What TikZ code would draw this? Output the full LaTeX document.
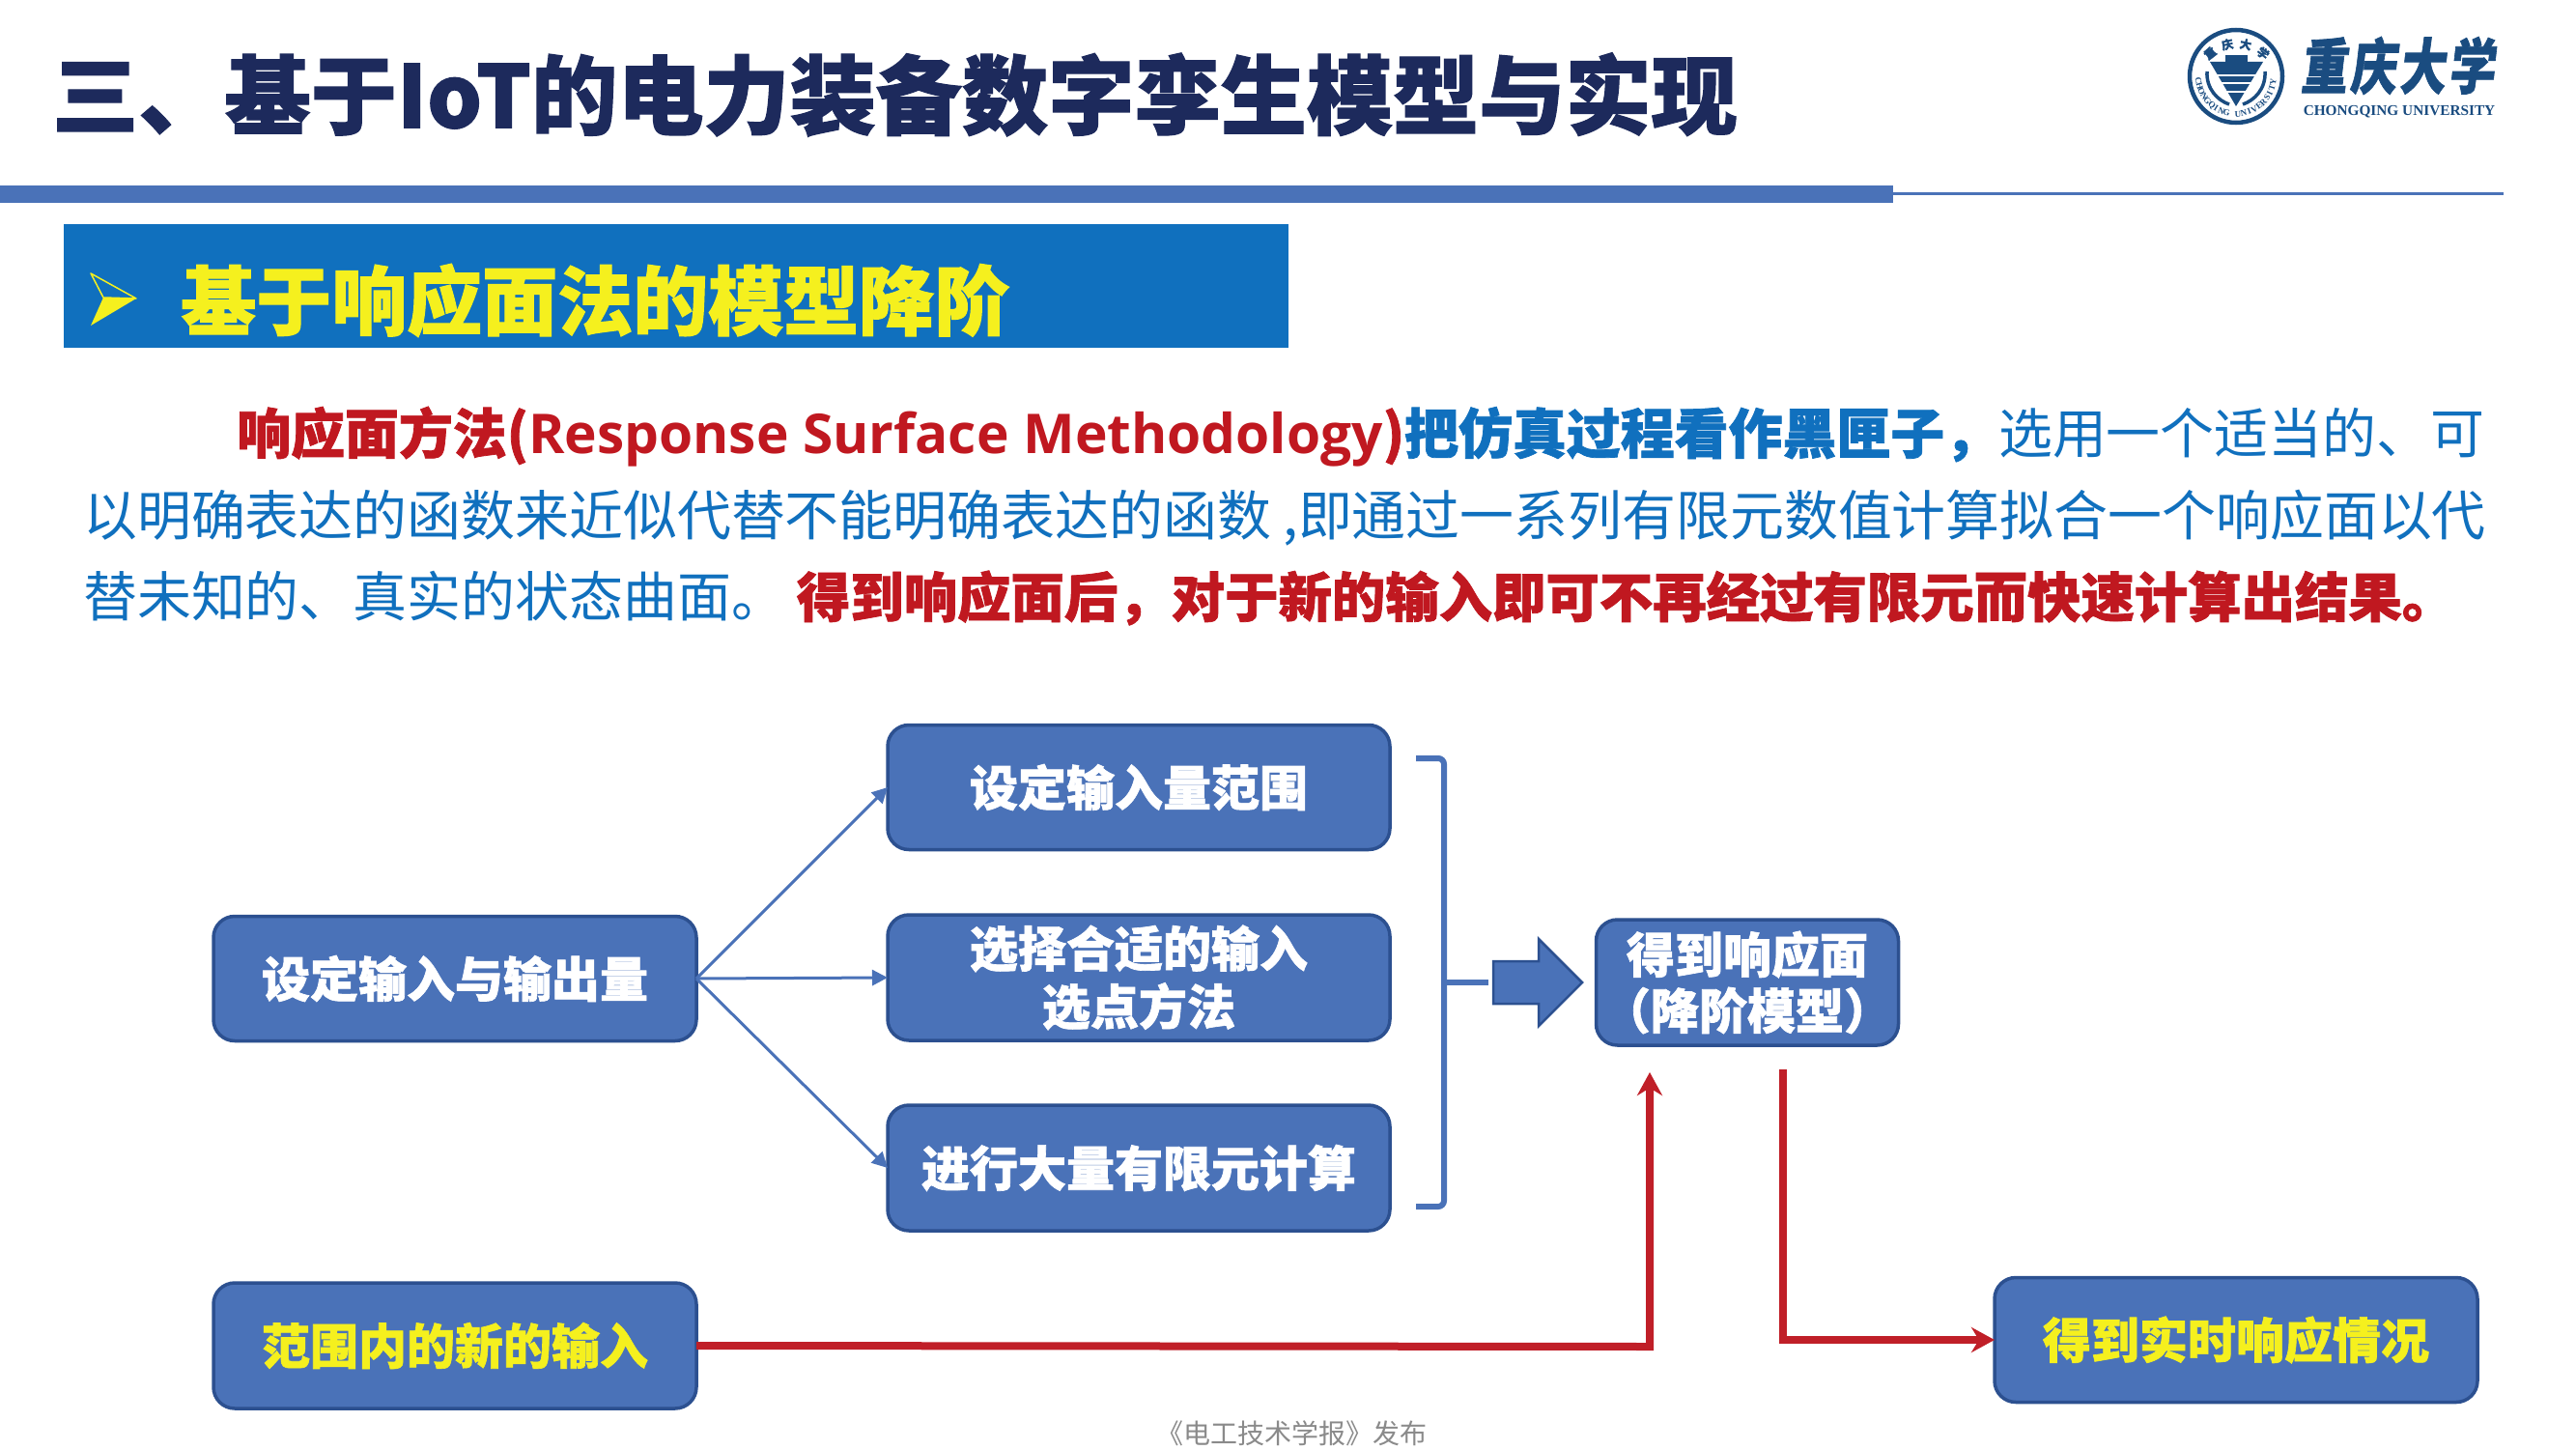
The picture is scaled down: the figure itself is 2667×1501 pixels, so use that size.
\documentclass[tikz,border=0pt]{standalone}
\usepackage{fontspec}
\setmainfont{Carlito}
\newfontfamily\cjk{Noto Sans CJK SC}[BoldFeatures={FakeBold=1.3}]
\newfontfamily\latinb{Open Sans}
\newfontfamily\seriflogo{Liberation Serif}
\usetikzlibrary{arrows.meta}
\definecolor{boxfill}{HTML}{4A72B8}
\definecolor{boxline}{HTML}{2C5090}
\definecolor{navy}{HTML}{1D2A5C}
\definecolor{bannerblue}{HTML}{1070BE}
\definecolor{yel}{HTML}{F5F01E}
\definecolor{parablue}{HTML}{1070BE}
\definecolor{parared}{HTML}{C01820}
\definecolor{arrowred}{HTML}{C01F28}
\definecolor{logoblue}{HTML}{1A4C80}
\definecolor{footgray}{HTML}{8A8A8A}
\tikzset{
 x=1pt,y=-1pt,
 flowbox/.style={draw=boxline,line width=3.5pt,fill=boxfill,rounded corners=22pt,inner sep=0pt,outer sep=0pt,align=center,text=white,font=\fontsize{50}{60}\selectfont\cjk\bfseries},
 yelbox/.style={flowbox,text=yel},
 para/.style={anchor=west,inner sep=0pt,font=\fontsize{55.9}{60}\selectfont\cjk},
 bluearrow/.style={draw=boxfill,line width=3pt,-{Triangle[length=16pt,width=16pt]}},
 redarrow/.style={draw=arrowred,line width=8pt,-{Stealth[length=24pt,width=26pt]}},
 sealchar/.style={inner sep=0pt,text=logoblue,font=\fontsize{9}{9}\selectfont\seriflogo\bfseries},
 sealcn/.style={inner sep=0pt,text=logoblue,font=\fontsize{12}{12}\selectfont\cjk\bfseries},
}
\begin{document}
\begin{tikzpicture}
\useasboundingbox (0,0) rectangle (2667,1501);
\fill[white] (0,0) rectangle (2667,1501);
% title
\node[anchor=west,inner sep=0pt,text=navy,font=\fontsize{89.2}{90}\selectfont\cjk\bfseries] (title) at (54,98) {三、基于IoT的电力装备数字孪生模型与实现};
\fill[boxfill] (0,192) rectangle (1960,210);
\draw[boxfill,line width=3pt] (1960,200) -- (2592,200);
% logo
\draw[logoblue,line width=4.5pt] (2315,79) circle (48);
\fill[logoblue] (2288,64) -- (2343,64) -- (2315,110) -- cycle;
\fill[logoblue] (2304,57) rectangle (2327,64);
\draw[white,line width=1.5pt] (2295,78) -- (2335,78) (2300,86) -- (2330,86) (2305,95) -- (2325,95);
\draw[logoblue,line width=3.5pt] (2285,74) .. controls (2284,92) and (2296,104) .. (2308,108);
\draw[logoblue,line width=3.5pt] (2345,74) .. controls (2346,92) and (2334,104) .. (2322,108);
\foreach \ch [count=\i from 0] in {C,H,O,N,G,Q,I,N,G,{ },U,N,I,V,E,R,S,I,T,Y} {
  \pgfmathsetmacro{\ang}{186+\i*8.7}
  \node[sealchar,rotate=\ang+90] (seal\i) at ({2315+39*cos(\ang)},{79-39*sin(\ang)}) {\ch};
}
\node[sealcn,rotate=38] (sealA) at (2288,55) {重};
\node[sealcn,rotate=12] (sealB) at (2306,46) {庆};
\node[sealcn,rotate=-12] (sealC) at (2325,46) {大};
\node[sealcn,rotate=-38] (sealD) at (2343,55) {学};
\node[anchor=center,text=logoblue,inner sep=0pt,yscale=1.3,xslant=0.15,font=\fontsize{48}{50}\selectfont\cjk\bfseries] (logocn) at (2485,68) {重\hspace{3pt}庆\hspace{3pt}大\hspace{3pt}学};
\node[anchor=center,text=logoblue,inner sep=0pt,font=\fontsize{15.3}{16}\selectfont\seriflogo\bfseries] (logoen) at (2484,116) {CHONGQING UNIVERSITY};
% banner
\fill[bannerblue] (66,232) rectangle (1334,360);
\fill[yel] (94,337) -- (141,309) -- (107,308) -- cycle;
\draw[yel,line width=1.5pt,line join=round] (94,283) -- (141,309) -- (107,308) -- cycle;
\node[anchor=west,inner sep=0pt,text=yel,font=\fontsize{78}{80}\selectfont\cjk\bfseries] (bannertext) at (187,311) {基于响应面法的模型降阶};
% paragraph
\node[para] (l1) at (245,452) {\textcolor{parared}{\bfseries 响应面方法(\latinb\fontsize{56.8}{60}\selectfont Response Surface Methodology\cjk\fontsize{55.9}{60}\selectfont)}\textcolor{parablue}{\bfseries 把仿真过程看作黑匣子，}\textcolor{parablue}{选用一个适当的、可}};
\node[para,text=parablue] (l2) at (86,536) {以明确表达的函数来近似代替不能明确表达的函数 ,即通过一系列有限元数值计算拟合一个响应面以代};
\node[para] (l3) at (86,619) {\textcolor{parablue}{替未知的、真实的状态曲面。}\hspace{12pt}\textcolor{parared}{\fontsize{55.4}{60}\selectfont\bfseries 得到响应面后，对于新的输入即可不再经过有限元而快速计算出结果。}};
% boxes
\node[flowbox,minimum width=500pt,minimum height=129pt] (a) at (471,1013) {设定输入与输出量};
\node[flowbox,minimum width=520pt,minimum height=129pt] (b1) at (1179,815) {设定输入量范围};
\node[flowbox,minimum width=520pt,minimum height=130pt] (b2) at (1179,1012) {选择合适的输入\\选点方法};
\node[flowbox,minimum width=520pt,minimum height=130pt] (b3) at (1179,1209) {进行大量有限元计算};
\node[flowbox,minimum width=313pt,minimum height=130pt,font=\fontsize{50}{58}\selectfont\cjk\bfseries] (c) at (1809,1017) {得到响应面\\（降阶模型）};
\node[yelbox,minimum width=500pt,minimum height=130pt] (d) at (471,1393) {范围内的新的输入};
\node[yelbox,minimum width=500pt,minimum height=129pt] (e) at (2315,1387) {得到实时响应情况};
\draw[bluearrow] (a.east) -- (b1.west);
\draw[bluearrow] (a.east) -- (b2.west);
\draw[bluearrow] (a.east) -- (b3.west);
% bracket
\coordinate (brT) at (1466,785);
\coordinate (brB) at (1466,1249);
\coordinate (brM) at (1541,1017);
\draw[boxfill,line width=6pt,rounded corners=6pt] (brT) -- (1495,785) -- (1495,1249) -- (brB);
\draw[boxfill,line width=6pt] (1495,1017) -- (brM);
\draw[boxline,line width=2.5pt,fill=boxfill] (1546,995) -- (1593,995) -- (1593,972) -- (1638,1017) -- (1593,1062) -- (1593,1039) -- (1546,1039) -- cycle;
% red
\coordinate (up) at (1708,1110);
\coordinate (dn) at (1846,1107);
\draw[redarrow] (d.east) -- (1708,1394) -- (up);
\draw[redarrow] (dn) -- (1846,1387) -- (e.west);
% footer
\node[inner sep=0pt,text=footgray,font=\fontsize{28}{30}\selectfont\cjk] (foot) at (1337,1484) {《电工技术学报》发布};
\end{tikzpicture}
\end{document}
